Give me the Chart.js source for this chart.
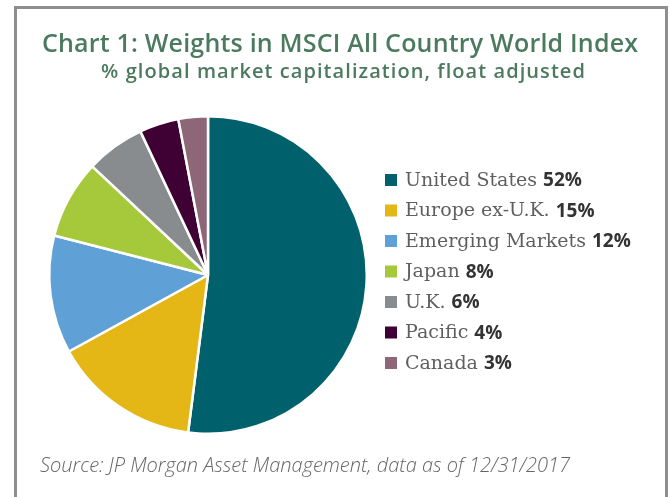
<!DOCTYPE html>
<html>
<head>
<meta charset="utf-8">
<script src="https://cdn.jsdelivr.net/npm/chart.js@4/dist/chart.umd.min.js"></script>
<style>
  html, body { margin: 0; padding: 0; background: #ffffff; }
  #wrap { width: 670px; height: 497px; position: relative; }
</style>
</head>
<body>
<div id="wrap"><canvas id="c" width="670" height="497"></canvas></div>
<script>
const categories = ['United States', 'Europe ex-U.K.', 'Emerging Markets', 'Japan', 'U.K.', 'Pacific', 'Canada'];
const weights = [52, 15, 12, 8, 6, 4, 3];
const sliceColors = ['#00606B', '#E5B716', '#5FA0D6', '#A5C93A', '#898C8E', '#3F0033', '#8D6677'];
const titleText = 'Chart 1: Weights in MSCI All Country World Index';
const subtitleText = '% global market capitalization, float adjusted';
const sourceText = 'Source: JP Morgan Asset Management, data as of 12/31/2017';

function fitText(ctx, text, cx, y, targetW) {
  const w = ctx.measureText(text).width;
  const extra = (targetW - w) / Math.max(1, text.length - 1);
  ctx.letterSpacing = extra.toFixed(2) + 'px';
  ctx.fillText(text, cx + extra / 2, y);
  ctx.letterSpacing = '0px';
}

const decorPlugin = {
  id: 'decor',
  beforeDraw(chart) {
    const ctx = chart.ctx;
    ctx.save();
    ctx.fillStyle = '#ffffff';
    ctx.fillRect(0, 0, chart.width, chart.height);
    ctx.strokeStyle = '#8e8e8e';
    ctx.lineWidth = 3;
    ctx.strokeRect(15.5, 7.5, 651, 520);
    ctx.restore();
  },
  afterDraw(chart) {
    const ctx = chart.ctx;
    ctx.save();
    ctx.textAlign = 'center';
    ctx.textBaseline = 'middle';
    ctx.fillStyle = '#4B7A5F';
    ctx.font = '600 25px "Open Sans"';
    fitText(ctx, titleText, 340, 45, 596);
    ctx.font = '600 20px "Open Sans"';
    fitText(ctx, subtitleText, 343, 72, 484);

    // legend
    const ds = chart.data.datasets[0];
    const x0 = 385, y0 = 180, step = 30.5;
    chart.data.labels.forEach((lab, i) => {
      const y = y0 + i * step;
      ctx.fillStyle = ds.backgroundColor[i];
      ctx.fillRect(x0, y - 6, 12, 12);
      ctx.textAlign = 'left';
      ctx.textBaseline = 'middle';
      ctx.fillStyle = '#5f5f5f';
      ctx.font = '300 19px "DejaVu Serif"';
      ctx.fillText(lab, 405, y + 1);
      const w = ctx.measureText(lab + ' ').width;
      ctx.fillStyle = '#333333';
      ctx.font = '700 19px "Open Sans"';
      ctx.fillText(ds.data[i] + '%', 405 + w, y + 1);
    });

    ctx.textAlign = 'left';
    ctx.fillStyle = '#666666';
    ctx.font = 'italic 300 20px "Open Sans"';
    ctx.fillText(sourceText, 40, 466);
    ctx.restore();
  }
};

new Chart(document.getElementById('c'), {
  type: 'pie',
  data: {
    labels: categories,
    datasets: [{
      data: weights,
      backgroundColor: sliceColors,
      borderColor: '#ffffff',
      borderWidth: 2.5
    }]
  },
  options: {
    responsive: false,
    animation: false,
    layout: { padding: { left: 48, right: 302, top: 115, bottom: 62 } },
    plugins: {
      legend: { display: false },
      title: { display: false },
      tooltip: { enabled: false }
    }
  },
  plugins: [decorPlugin]
});
</script>
</body>
</html>
